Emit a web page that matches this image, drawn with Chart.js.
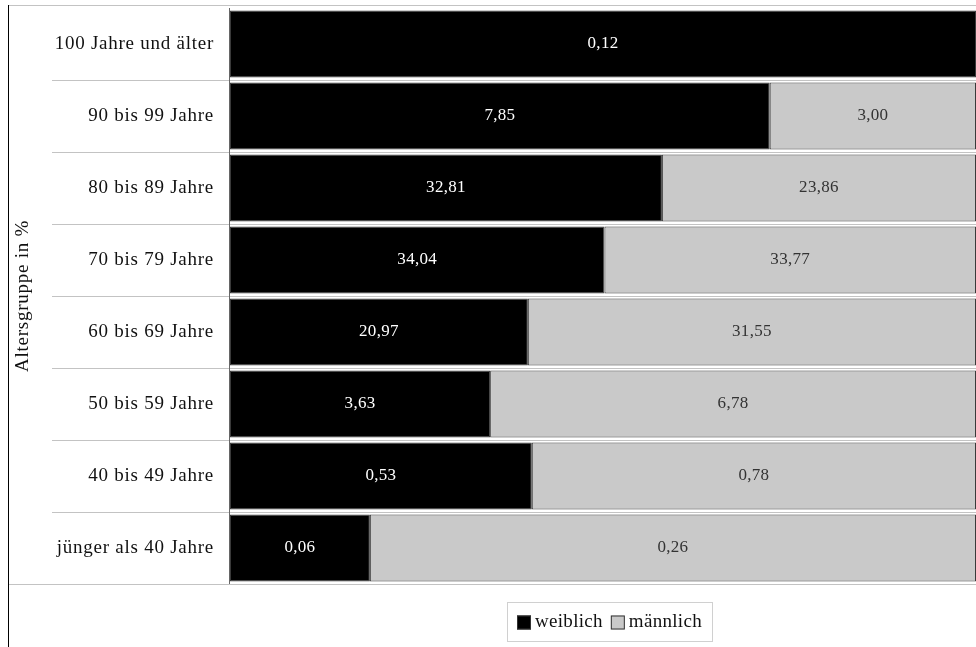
<!DOCTYPE html>
<html lang="de">
<head>
<meta charset="utf-8">
<title>Altersgruppen nach Geschlecht</title>
<script src="https://cdn.jsdelivr.net/npm/chart.js@4.4.1/dist/chart.umd.min.js"></script>
<style>
    html, body { margin: 0; padding: 0; background: #fff; }
    #wrap { width: 976px; height: 647px; }
</style>
</head>
<body>
<div id="wrap"><canvas id="ageChart"></canvas></div>
<script>
const ageGroups = [
    '100 Jahre und älter',
    '90 bis 99 Jahre',
    '80 bis 89 Jahre',
    '70 bis 79 Jahre',
    '60 bis 69 Jahre',
    '50 bis 59 Jahre',
    '40 bis 49 Jahre',
    'jünger als 40 Jahre'
];
const weiblich = [0.12, 7.85, 32.81, 34.04, 20.97, 3.63, 0.53, 0.06];
const maennlich = [0, 3.00, 23.86, 33.77, 31.55, 6.78, 0.78, 0.26];
const seriesNames = ['weiblich', 'männlich'];
const seriesColors = ['#000000', '#c9c9c9'];

const serif = '"Liberation Serif", "DejaVu Serif", serif';

// each row is scaled to 100 %, the labels keep the original numbers
function share(values, other) {
    return values.map(function(v, i) {
        const total = v + other[i];
        return total ? v / total : 0;
    });
}

function fmt(v) {
    return v.toFixed(2).replace('.', ',');
}

const frameAndLabels = {
    id: 'frameAndLabels',
    beforeDraw(chart) {
        // the axis labels are set a little wider
        chart.ctx.letterSpacing = '0.75px';
    },
    beforeDatasetsDraw(chart) {
        const ctx = chart.ctx;
        const area = chart.chartArea;
        const y = chart.scales.y;
        ctx.letterSpacing = '0px';
        ctx.save();
        ctx.strokeStyle = '#c3c3c3';
        ctx.lineWidth = 1;
        // row separators reaching into the label column
        for (let i = 1; i < ageGroups.length; i++) {
            const py = Math.round((y.getPixelForTick(i - 1) + y.getPixelForTick(i)) / 2) + 0.5;
            ctx.beginPath();
            ctx.moveTo(52, py);
            ctx.lineTo(area.right, py);
            ctx.stroke();
        }
        ctx.beginPath();
        ctx.moveTo(8, area.bottom + 0.5);
        ctx.lineTo(area.right, area.bottom + 0.5);
        ctx.moveTo(8, 5.5);
        ctx.lineTo(area.right, 5.5);
        ctx.stroke();
        ctx.strokeStyle = '#000';
        ctx.beginPath();
        ctx.moveTo(8.5, 5);
        ctx.lineTo(8.5, chart.height);
        ctx.stroke();
        ctx.strokeStyle = '#666';
        ctx.beginPath();
        ctx.moveTo(area.left - 0.5, area.top);
        ctx.lineTo(area.left - 0.5, area.bottom);
        ctx.stroke();
        ctx.restore();
    },
    afterDatasetsDraw(chart) {
        const ctx = chart.ctx;
        const area = chart.chartArea;
        const raw = [weiblich, maennlich];
        const colors = ['#ffffff', '#333333'];
        ctx.save();
        ctx.letterSpacing = '0.3px';
        ctx.font = '17px ' + serif;
        ctx.textAlign = 'center';
        ctx.textBaseline = 'middle';
        chart.data.datasets.forEach(function(ds, d) {
            chart.getDatasetMeta(d).data.forEach(function(bar, i) {
                if (!raw[d][i]) return;
                const left = Math.min(bar.x, bar.base);
                const right = Math.max(bar.x, bar.base);
                ctx.fillStyle = colors[d];
                ctx.fillText(fmt(raw[d][i]), (left + right) / 2, bar.y);
            });
        });

        // legend below the plot, centred on the bars
        ctx.font = '19px ' + serif;
        ctx.textAlign = 'left';
        const box = 14, gap = 4, between = 8, pad = 10;
        const widths = seriesNames.map(function(n) { return ctx.measureText(n).width; });
        let total = pad * 2 + between;
        widths.forEach(function(w) { total += box + gap + w; });
        total = Math.round(total);
        const lx = Math.round((area.left + area.right) / 2 - total / 2) + 6;
        const ly = 602;
        const lh = 39;
        ctx.strokeStyle = '#d0d0d0';
        ctx.strokeRect(lx + 0.5, ly + 0.5, total, lh);
        let x = lx + pad;
        const cy = ly + lh / 2 + 1;
        seriesNames.forEach(function(n, i) {
            ctx.fillStyle = seriesColors[i];
            ctx.fillRect(x, cy - box / 2, box, box);
            ctx.strokeStyle = '#333';
            ctx.strokeRect(x + 0.5, cy - box / 2 + 0.5, box - 1, box - 1);
            ctx.fillStyle = '#111';
            ctx.fillText(n, x + box + gap, cy);
            x += box + gap + widths[i] + between;
        });
        ctx.restore();
    }
};

const ctx = document.getElementById('ageChart').getContext('2d');
const ageChart = new Chart(ctx, {
    type: 'bar',
    data: {
        labels: ageGroups,
        datasets: [{
            label: seriesNames[0],
            data: share(weiblich, maennlich),
            backgroundColor: seriesColors[0],
            borderColor: '#3a3a3a',
            borderWidth: 1,
            borderSkipped: false
        }, {
            label: seriesNames[1],
            data: share(maennlich, weiblich),
            backgroundColor: seriesColors[1],
            borderColor: '#3a3a3a',
            borderWidth: 1,
            borderSkipped: false
        }]
    },
    options: {
        indexAxis: 'y',
        responsive: true,
        maintainAspectRatio: false,
        animation: false,
        layout: { padding: { top: 8, right: 0, bottom: 63, left: 0 } },
        datasets: {
            bar: { barPercentage: 0.93, categoryPercentage: 1 }
        },
        scales: {
            x: {
                stacked: true,
                display: false,
                min: 0,
                max: 1
            },
            y: {
                stacked: true,
                afterFit: function(scale) {
                    scale.width = 230;
                    scale.paddingTop = 0;
                    scale.paddingBottom = 0;
                },
                grid: { display: false, drawTicks: false },
                border: { display: false },
                ticks: {
                    color: '#111',
                    padding: 16,
                    font: { family: serif, size: 19 }
                },
                title: {
                    display: true,
                    text: 'Altersgruppe in %',
                    color: '#111',
                    padding: { top: 12, bottom: 0 },
                    font: { family: serif, size: 19 }
                }
            }
        },
        plugins: {
            tooltip: { enabled: false },
            legend: { display: false }
        }
    },
    plugins: [frameAndLabels]
});
</script>
</body>
</html>
